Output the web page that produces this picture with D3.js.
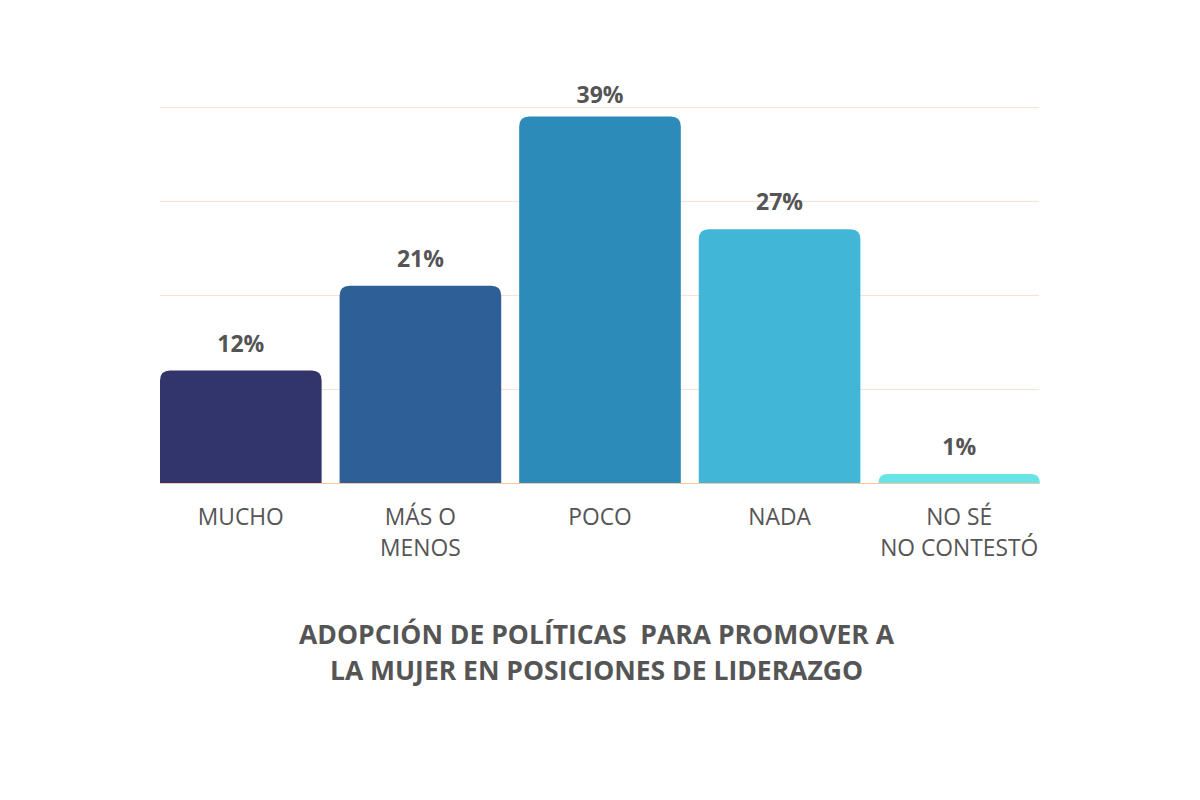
<!DOCTYPE html>
<html><head><meta charset="utf-8">
<script src="https://cdn.jsdelivr.net/npm/d3@7"></script>
<style>body{margin:0;background:#fff;}svg{display:block;font-family:"Open Sans",sans-serif;}</style>
</head><body>
<svg id="c" width="1200" height="800"></svg>
<script>
const categories = ["MUCHO", "MÁS O|MENOS", "POCO", "NADA", "NO SÉ|NO CONTESTÓ"];
const values = [12, 21, 39, 27, 1];
const colors = ["#31356b", "#2e5f96", "#2d8bba", "#42b6d6", "#68e4e6"];
const gridTicks = [10, 20, 30, 40];
const titleLines = ["ADOPCIÓN DE POLÍTICAS  PARA PROMOVER A", "LA MUJER EN POSICIONES DE LIDERAZGO"];

const svg = d3.select("#c");
const plotLeft = 160, plotRight = 1039, plotTop = 107, plotBase = 483.5;
const x = d3.scaleBand().domain(categories).range([plotLeft, plotRight + 1]).paddingInner(0.1).paddingOuter(0);
const y = d3.scaleLinear().domain([0, 40]).range([plotBase, plotTop]);

svg.append("g").selectAll("line").data(gridTicks).join("line")
  .attr("x1", plotLeft).attr("x2", plotRight).attr("y1", d => Math.round(y(d)) + 0.5).attr("y2", d => Math.round(y(d)) + 0.5)
  .attr("stroke", "#f9e2d0").attr("stroke-width", 1.2);

function barPath(d, i) {
  const x0 = x(categories[i]), w = x.bandwidth(), y0 = y(d), y1 = y(0);
  const r = Math.min(10, (y1 - y0));
  return `M${x0},${y1}V${y0 + r}Q${x0},${y0} ${x0 + r},${y0}H${x0 + w - r}Q${x0 + w},${y0} ${x0 + w},${y0 + r}V${y1}Z`;
}
svg.append("g").selectAll("path").data(values).join("path")
  .attr("d", barPath).attr("fill", (d, i) => colors[i]);

svg.append("line").attr("x1", plotLeft).attr("x2", plotRight).attr("y1", plotBase).attr("y2", plotBase)
  .attr("stroke", "#f6c99e").attr("stroke-width", 1);

svg.append("g").selectAll("text").data(values).join("text")
  .attr("x", (d, i) => x(categories[i]) + x.bandwidth() / 2)
  .attr("y", d => Math.max(plotTop - 4, y(d) - 19))
  .attr("text-anchor", "middle").attr("font-size", 23).attr("font-weight", 700).attr("fill", "#555")
  .text(d => d + "%");

const lab = svg.append("g").selectAll("text").data(categories).join("text")
  .attr("x", d => x(d) + x.bandwidth() / 2)
  .attr("y", 525)
  .attr("text-anchor", "middle").attr("font-size", 22.8).attr("fill", "#555");
lab.each(function(d) {
  const parts = d.split("|");
  d3.select(this).selectAll("tspan").data(parts).join("tspan")
    .attr("x", x(d) + x.bandwidth() / 2)
    .attr("dy", (p, j) => j === 0 ? 0 : 30.5)
    .text(p => p);
});

svg.append("g").selectAll("text").data(titleLines).join("text")
  .attr("x", 596.5).attr("y", (d, i) => 644 + i * 36)
  .attr("text-anchor", "middle").attr("font-size", 26.5).attr("font-weight", 700).attr("fill", "#555")
  .attr("xml:space", "preserve").style("white-space", "pre")
  .text(d => d);
</script>
</body></html>
